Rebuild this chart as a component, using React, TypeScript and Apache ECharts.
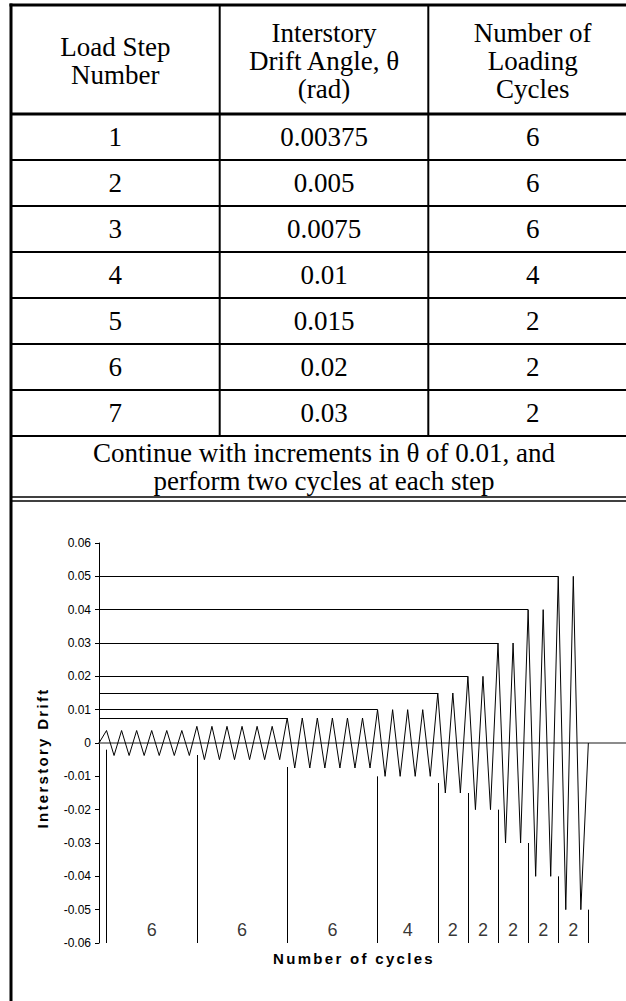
import React, { useEffect, useRef } from 'react';
import * as echarts from 'echarts';

// ---- table data ----
const stepNumbers = [1, 2, 3, 4, 5, 6, 7];
const driftAngles = [0.00375, 0.005, 0.0075, 0.01, 0.015, 0.02, 0.03];
const loadingCycles = [6, 6, 6, 4, 2, 2, 2];
const headerLabels = ['Load Step\nNumber', 'Interstory\nDrift Angle, θ\n(rad)', 'Number of\nLoading\nCycles'];
const footnote = 'Continue with increments in θ of 0.01, and\nperform two cycles at each step';

// ---- chart data ----
const chartAmplitudes = [0.00375, 0.005, 0.0075, 0.01, 0.015, 0.02, 0.03, 0.04, 0.05];
const chartCycles = [6, 6, 6, 4, 2, 2, 2, 2, 2];
const guideLevels = [0.0075, 0.01, 0.015, 0.02, 0.03, 0.04, 0.05];
const dividerTops = [-0.002, -0.0036, -0.0072, -0.01, -0.012, -0.015, -0.02, -0.03, -0.04, -0.05];
const yTitle = 'Interstory Drift';
const xTitle = 'Number of cycles';

const SERIF = '"Times New Roman", "Liberation Serif", serif';
const SANS = 'Arial, "Liberation Sans", sans-serif';

export default function App() {
  const ref = useRef<HTMLDivElement>(null);
  useEffect(() => {
    document.body.style.margin = '0';
    const el = ref.current!;
    const chart = echarts.init(el, undefined, { renderer: 'svg' });

    const groupStarts: number[] = [];
    let acc = 0;
    chartCycles.forEach((c) => { groupStarts.push(acc); acc += c; });
    const total = acc;
    const zigzag: number[][] = [[0, 0]];
    chartAmplitudes.forEach((a, g) => {
      for (let k = 0; k < chartCycles[g]; k++) {
        const s = groupStarts[g] + k;
        zigzag.push([s + 0.5, a]);
        zigzag.push([s + 1, -a]);
      }
    });
    zigzag.push([total + 0.5, 0]);
    const dividerXs = [...groupStarts.map((s) => s + 0.5), total + 0.5];
    const guideData = guideLevels.map((a) => {
      const g = chartAmplitudes.indexOf(a);
      return { coords: [[0, a], [groupStarts[g] + 0.5, a]] };
    });
    const dividerData = dividerXs.map((x, i) => ({ coords: [[x, dividerTops[i]], [x, -0.06]] }));
    const labelData = chartCycles.map((c, g) => [(dividerXs[g] + dividerXs[g + 1]) / 2, -0.0561, c]);

    // table layout
    const TL = 11, TR = 637, TT = 5;
    const colX = [TL, 219.7, 428.3, TR];
    const headBottom = 114, rowH = 46;
    const rowsBottom = headBottom + rowH * stepNumbers.length;
    const footBottom = 497;
    const g: any[] = [];
    const line = (x1: number, y1: number, x2: number, y2: number, w: number) =>
      g.push({ type: 'line', shape: { x1, y1, x2, y2 }, style: { stroke: '#000', lineWidth: w }, silent: true });
    line(TL, TT - 1.5, TL, 1001, 3);
    line(TL - 1.5, TT, TR + 5, TT, 3);
    line(TL, headBottom, TR + 5, headBottom, 3);
    for (let i = 1; i <= stepNumbers.length; i++) line(TL, headBottom + rowH * i, TR + 5, headBottom + rowH * i, 2);
    line(colX[1], TT, colX[1], rowsBottom, 2);
    line(colX[2], TT, colX[2], rowsBottom, 2);
    line(TL, footBottom, TR + 5, footBottom, 1.5);
    line(TL, footBottom + 4, TR + 5, footBottom + 4, 1.5);
    const txt = (text: string, x: number, y: number) =>
      g.push({
        type: 'text', x, y, silent: true,
        style: { text, align: 'center', verticalAlign: 'middle', fontFamily: SERIF, fontSize: 27, lineHeight: 28, fill: '#000' },
      });
    headerLabels.forEach((h, i) => txt(h, (colX[i] + colX[i + 1]) / 2, (TT + headBottom) / 2 + 1));
    stepNumbers.forEach((s, i) => {
      const cy = headBottom + rowH * i + rowH / 2;
      txt(String(s), (colX[0] + colX[1]) / 2, cy);
      txt(String(driftAngles[i]), (colX[1] + colX[2]) / 2, cy);
      txt(String(loadingCycles[i]), (colX[2] + colX[3]) / 2, cy);
    });
    txt(footnote, (TL + TR) / 2, (rowsBottom + footBottom) / 2);
    // axis titles
    g.push({
      type: 'text', x: 42, y: 758, rotation: Math.PI / 2, silent: true,
      style: { text: yTitle, align: 'center', verticalAlign: 'middle', fontFamily: SANS, fontWeight: 'bold', fontSize: 15, fill: '#000' },
    });
    g.push({
      type: 'text', x: 354, y: 958, silent: true,
      style: { text: xTitle, align: 'center', verticalAlign: 'middle', fontFamily: SANS, fontWeight: 'bold', fontSize: 15, fill: '#000' },
    });

    const pxPerCycle = 15.625;
    const xMax = 35;
    chart.setOption({
      animation: false,
      grid: { left: 99, top: 543, width: xMax * pxPerCycle, height: 400, containLabel: false },
      xAxis: {
        type: 'value', min: 0, max: xMax, interval: 5,
        axisLine: { show: true, onZero: true, lineStyle: { color: '#666', width: 1.5 } },
        axisTick: { show: false }, axisLabel: { show: false }, splitLine: { show: false },
      },
      yAxis: {
        type: 'value', min: -0.06, max: 0.06, interval: 0.01,
        axisLine: { show: true, onZero: false, lineStyle: { color: '#000', width: 1 } },
        axisTick: { show: true, inside: false, length: 4, lineStyle: { color: '#000' } },
        axisLabel: {
          margin: 8, color: '#000', fontFamily: SANS, fontSize: 12,
          formatter: (v: number) => (Math.abs(v) < 1e-9 ? '0' : v.toFixed(2)),
        },
        splitLine: { show: false },
      },
      series: [
        {
          type: 'line', data: zigzag, symbol: 'none', silent: true,
          lineStyle: { color: '#000', width: 1 },
        },
        {
          type: 'lines', coordinateSystem: 'cartesian2d', data: guideData, silent: true,
          lineStyle: { color: '#000', width: 1, opacity: 1 },
        },
        {
          type: 'lines', coordinateSystem: 'cartesian2d', data: dividerData, silent: true,
          lineStyle: { color: '#000', width: 1, opacity: 1 },
        },
        {
          type: 'scatter', data: labelData, symbol: 'circle', symbolSize: 1, silent: true,
          itemStyle: { color: 'rgba(0,0,0,0)' },
          label: {
            show: true, position: 'inside', color: '#000', fontFamily: SANS, fontSize: 18,
            formatter: (p: any) => String(p.value[2]),
          },
        },
      ],
      graphic: g,
    });

    el.querySelectorAll('text').forEach((t) => {
      if (t.textContent === xTitle || t.textContent === yTitle) (t as any).style.letterSpacing = '2.3px';
    });

    return () => chart.dispose();
  }, []);
  return <div ref={ref} style={{ width: 626, height: 1001 }} />;
}
